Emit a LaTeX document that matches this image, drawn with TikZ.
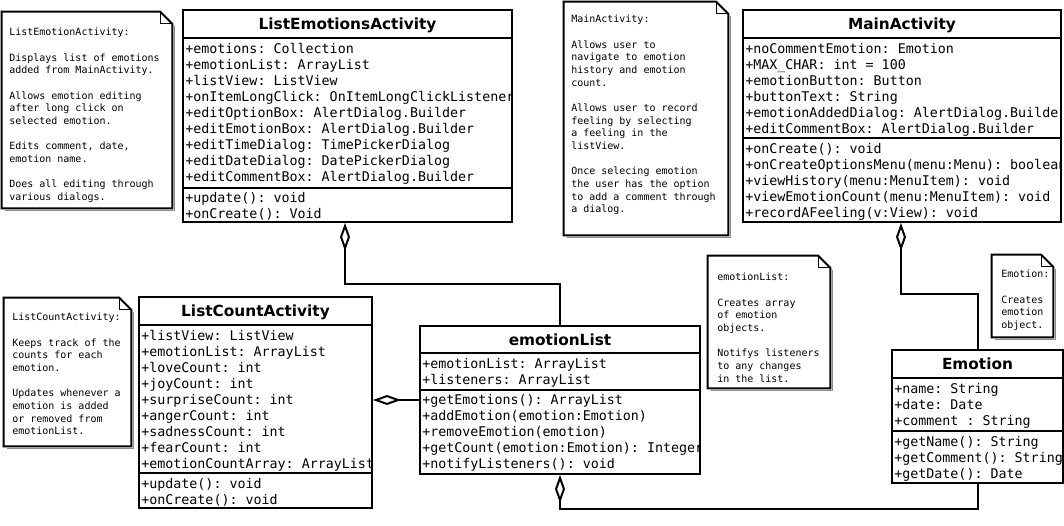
\documentclass[tikz,border=0pt]{standalone}
\usepackage{fontspec}
\setsansfont{DejaVu Sans}
\setmonofont{DejaVu Sans Mono}
\usetikzlibrary{arrows.meta,calc,fit}

\definecolor{NoteShadow}{gray}{0.55}

\begin{document}
\begin{tikzpicture}[x=0.75pt,y=-0.75pt,
    umlbox/.style={draw,line width=1.5pt,inner sep=0pt},
    umltitle/.style={anchor=base,inner sep=0pt,font=\sffamily\bfseries\fontsize{11.5}{14}\selectfont},
    member/.style={anchor=base west,inner sep=0pt,font=\ttfamily\fontsize{10}{12}\selectfont},
    notebox/.style={inner sep=0pt},
    notetext/.style={anchor=north west,align=left,inner sep=0pt,
      font=\ttfamily\fontsize{7.5}{9.5}\selectfont},
    sepline/.style={line width=1.5pt},
    aggr/.style={line width=1.5pt,{Diamond[open,length=21pt,width=7.5pt]}-}]
  \fill[white] (0,0) rectangle (1064,525);
  \useasboundingbox (0,0) rectangle (1064,525);

  % notes
  \node[notebox,fit={(2,12) (172,208)}] (nlea) {};
  \node[notetext] (nlea-txt) at (9,28) {ListEmotionActivity:\\[9.5pt]
    Displays list of emotions\\added from MainActivity.\\[9.5pt]
    Allows emotion editing\\after long click on\\selected emotion.\\[9.5pt]
    Edits comment, date,\\emotion name.\\[9.5pt]
    Does all editing through\\various dialogs.};
  \node[notebox,fit={(564,2) (728,235)}] (nmain) {};
  \node[notetext] (nmain-txt) at (571,15) {MainActivity:\\[9.5pt]
    Allows user to\\navigate to emotion\\history and emotion\\count.\\[9.5pt]
    Allows user to record\\feeling by selecting\\a feeling in the\\listView.\\[9.5pt]
    Once selecing emotion\\the user has the option\\to add a comment through\\a dialog.};
  \node[notebox,fit={(4,298) (131,446)}] (nlca) {};
  \node[notetext] (nlca-txt) at (12,313) {ListCountActivity:\\[9.5pt]
    Keeps track of the\\counts for each\\emotion.\\[9.5pt]
    Updates whenever a\\emotion is added\\or removed from\\emotionList.};
  \node[notebox,fit={(708,256) (830,388)}] (nel) {};
  \node[notetext] (nel-txt) at (717,273) {emotionList:\\[9.5pt]
    Creates array\\of emotion\\objects.\\[9.5pt]
    Notifys listeners\\to any changes\\in the list.};
  \node[notebox,fit={(992,255) (1053,337)}] (nemo) {};
  \node[notetext] (nemo-txt) at (1001,270) {Emotion:\\[9.5pt]
    Creates\\emotion\\object.};
  \foreach \n in {nlea,nmain,nlca,nel,nemo} {
    \draw[NoteShadow,line width=1pt] ($(\n.north east)+(2,14)$) -- ($(\n.south east)+(2,2)$)
      -- ($(\n.south west)+(3,2)$);
    \draw[line width=1.5pt,line join=miter] (\n.north west) -- ($(\n.north east)+(-12,0)$)
      -- ($(\n.north east)+(0,12)$) -- (\n.south east) -- (\n.south west) -- cycle;
    \draw[line width=0.6pt] ($(\n.north east)+(-12,0)$) |- ($(\n.north east)+(0,12)$);
  }

  % ListEmotionsActivity
  \node[umlbox,fit={(183,10) (512,222)}] (lea) {};
  \node[umltitle] (lea-t) at ($(lea.north)+(0,20)$) {ListEmotionsActivity};
  \draw[sepline] (lea.west |- 0,38) -- (lea.east |- 0,38);
  \draw[sepline] (lea.west |- 0,188) -- (lea.east |- 0,188);
  \begin{scope}
    \clip ($(lea.south west)+(1,-1)$) rectangle ($(lea.north east)+(-1,1)$);
    \foreach \m [count=\i from 0] in {+emotions: Collection,+emotionList: ArrayList,
        +listView: ListView,+onItemLongClick: OnItemLongClickListener,
        +editOptionBox: AlertDialog.Builder,+editEmotionBox: AlertDialog.Builder,
        +editTimeDialog: TimePickerDialog,+editDateDialog: DatePickerDialog,
        +editCommentBox: AlertDialog.Builder}
      \node[member] (lea-a\i) at (185,53+16*\i) {\m};
    \foreach \m [count=\i from 0] in {+update(): void,+onCreate(): Void}
      \node[member] (lea-m\i) at (185,202+16*\i) {\m};
  \end{scope}

  % MainActivity
  \node[umlbox,fit={(743,10) (1061,222)}] (main) {};
  \node[umltitle] (main-t) at ($(main.north)+(0,20)$) {MainActivity};
  \draw[sepline] (main.west |- 0,38) -- (main.east |- 0,38);
  \draw[sepline] (main.west |- 0,138) -- (main.east |- 0,138);
  \begin{scope}
    \clip ($(main.south west)+(1,-1)$) rectangle ($(main.north east)+(-1,1)$);
    \foreach \m [count=\i from 0] in {+noCommentEmotion: Emotion,+MAX\_CHAR: int = 100,
        +emotionButton: Button,+buttonText: String,
        +emotionAddedDialog: AlertDialog.Builder,+editCommentBox: AlertDialog.Builder}
      \node[member] (main-a\i) at (745,53+16*\i) {\m};
    \foreach \m [count=\i from 0] in {+onCreate(): void,
        +onCreateOptionsMenu(menu:Menu): boolean,+viewHistory(menu:MenuItem): void,
        +viewEmotionCount(menu:MenuItem): void,+recordAFeeling(v:View): void}
      \node[member] (main-m\i) at (745,153+16*\i) {\m};
  \end{scope}

  % ListCountActivity
  \node[umlbox,fit={(139,297) (372,508)}] (lca) {};
  \node[umltitle] (lca-t) at ($(lca.north)+(0,20)$) {ListCountActivity};
  \draw[sepline] (lca.west |- 0,325) -- (lca.east |- 0,325);
  \draw[sepline] (lca.west |- 0,473) -- (lca.east |- 0,473);
  \begin{scope}
    \clip ($(lca.south west)+(1,-1)$) rectangle ($(lca.north east)+(-1,1)$);
    \foreach \m [count=\i from 0] in {+listView: ListView,+emotionList: ArrayList,
        +loveCount: int,+joyCount: int,+surpriseCount: int,+angerCount: int,
        +sadnessCount: int,+fearCount: int,+emotionCountArray: ArrayList}
      \node[member] (lca-a\i) at (141,340+16*\i) {\m};
    \foreach \m [count=\i from 0] in {+update(): void,+onCreate(): void}
      \node[member] (lca-m\i) at (141,488+16*\i) {\m};
  \end{scope}

  % emotionList
  \node[umlbox,fit={(420,326) (700,474)}] (el) {};
  \node[umltitle] (el-t) at ($(el.north)+(0,20)$) {emotionList};
  \draw[sepline] (el.west |- 0,353) -- (el.east |- 0,353);
  \draw[sepline] (el.west |- 0,390) -- (el.east |- 0,390);
  \begin{scope}
    \clip ($(el.south west)+(1,-1)$) rectangle ($(el.north east)+(-1,1)$);
    \foreach \m [count=\i from 0] in {+emotionList: ArrayList,+listeners: ArrayList}
      \node[member] (el-a\i) at (422,368+16*\i) {\m};
    \foreach \m [count=\i from 0] in {+getEmotions(): ArrayList,
        +addEmotion(emotion:Emotion),+removeEmotion(emotion),
        +getCount(emotion:Emotion): Integer,+notifyListeners(): void}
      \node[member] (el-m\i) at (422,404+16*\i) {\m};
  \end{scope}

  % Emotion
  \node[umlbox,fit={(892,350) (1063,483)}] (emo) {};
  \node[umltitle] (emo-t) at ($(emo.north)+(0,20)$) {Emotion};
  \draw[sepline] (emo.west |- 0,378) -- (emo.east |- 0,378);
  \draw[sepline] (emo.west |- 0,431) -- (emo.east |- 0,431);
  \begin{scope}
    \clip ($(emo.south west)+(1,-1)$) rectangle ($(emo.north east)+(-1,1)$);
    \foreach \m [count=\i from 0] in {+name: String,+date: Date,+comment : String}
      \node[member] (emo-a\i) at (894,393+16*\i) {\m};
    \foreach \m [count=\i from 0] in {+getName(): String,+getComment(): String,
        +getDate(): Date}
      \node[member] (emo-m\i) at (894,446+16*\i) {\m};
  \end{scope}

  % aggregations
  \draw[aggr] ($(lea.south west)+(163,0)$) -- ++(0,61) -| (el.north);
  \draw[aggr] (lca.east |- el.west) -- (el.west);
  \draw[aggr] (el.south) -- ++(0,34) -| (emo.south);
  \draw[aggr] ($(main.south west)+(159,0)$) -- ++(0,71) -| (emo.north);
\end{tikzpicture}
\end{document}
